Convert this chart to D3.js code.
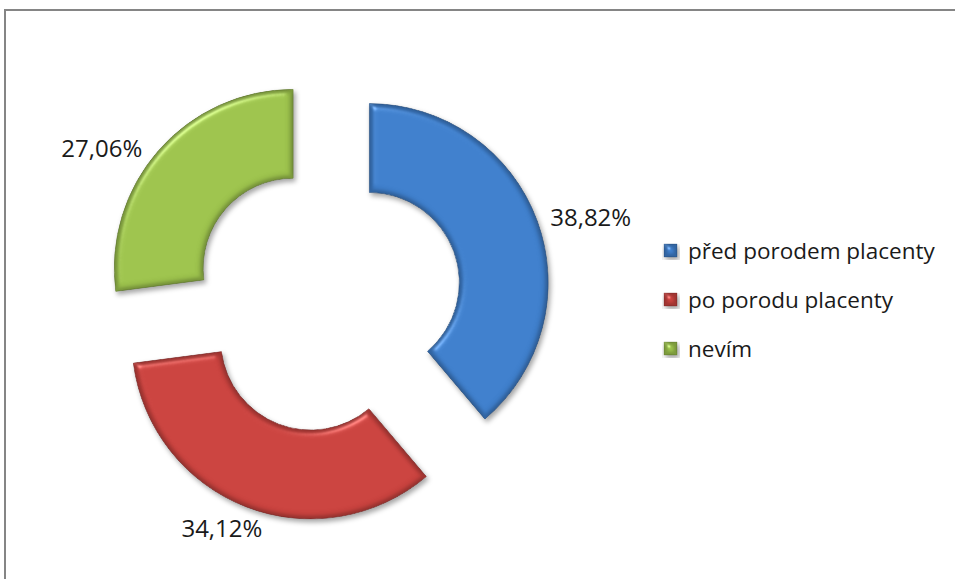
<!DOCTYPE html>
<html>
<head>
<meta charset="utf-8">
<script src="https://cdn.jsdelivr.net/npm/d3@7/dist/d3.min.js"></script>
<style>
  html, body { margin: 0; padding: 0; background: #fff; }
  svg { display: block; }
  text { font-family: "Open Sans", "Noto Sans", sans-serif; fill: #1a1a1a; }
</style>
</head>
<body>
<svg id="chart" width="955" height="579"></svg>
<script>
// Answers: when was the baby handed over (share of respondents, %)
const categories = ["před porodem placenty", "po porodu placenty", "nevím"];
const shares = [38.82, 34.12, 27.06];
const valueLabels = ["38,82%", "34,12%", "27,06%"];
const colors = ["#3e7ecb", "#c9423e", "#9cc24c"];

const W = 955, H = 579;
const cx = 327, cy = 298;
const outerR = 179, innerR = 90;
const explode = 45;

const svg = d3.select("#chart");
const defs = svg.append("defs");

// soft bevel + drop shadow for the ring segments
const f = defs.append("filter").attr("id", "bevel")
  .attr("color-interpolation-filters", "sRGB")
  .attr("x", "-20%").attr("y", "-20%").attr("width", "140%").attr("height", "140%");
f.append("feGaussianBlur").attr("in", "SourceAlpha").attr("stdDeviation", 3.5).attr("result", "blur");
const spec = f.append("feSpecularLighting").attr("in", "blur")
  .attr("surfaceScale", 4).attr("specularConstant", 0.8).attr("specularExponent", 40)
  .attr("lighting-color", "#ffffff").attr("result", "spec");
spec.append("feDistantLight").attr("azimuth", 235).attr("elevation", 45);
f.append("feComposite").attr("in", "spec").attr("in2", "SourceAlpha").attr("operator", "in").attr("result", "specIn");
const dif = f.append("feDiffuseLighting").attr("in", "blur")
  .attr("surfaceScale", 4).attr("diffuseConstant", 1.0)
  .attr("lighting-color", "#ffffff").attr("result", "dif");
dif.append("feDistantLight").attr("azimuth", 235).attr("elevation", 90);
f.append("feComposite").attr("in", "SourceGraphic").attr("in2", "dif")
  .attr("operator", "arithmetic").attr("k1", 1).attr("k2", 0).attr("k3", 0).attr("k4", 0).attr("result", "shaded");
f.append("feComposite").attr("in", "shaded").attr("in2", "specIn")
  .attr("operator", "arithmetic").attr("k1", 0).attr("k2", 1).attr("k3", 0.35).attr("k4", 0).attr("result", "lit");
f.append("feComposite").attr("in", "lit").attr("in2", "SourceAlpha").attr("operator", "in").attr("result", "litIn");
f.append("feGaussianBlur").attr("in", "SourceAlpha").attr("stdDeviation", 2.5).attr("result", "sh");
f.append("feOffset").attr("in", "sh").attr("dx", 1.5).attr("dy", 3).attr("result", "shOff");
f.append("feFlood").attr("flood-color", "#000").attr("flood-opacity", 0.35).attr("result", "shCol");
f.append("feComposite").attr("in", "shCol").attr("in2", "shOff").attr("operator", "in").attr("result", "shadow");
const m = f.append("feMerge");
m.append("feMergeNode").attr("in", "shadow");
m.append("feMergeNode").attr("in", "litIn");

// frame
svg.append("path")
  .attr("d", `M5,${H} L5,10 L${W},10`)
  .attr("fill", "none").attr("stroke", "#858585").attr("stroke-width", 2);

const pie = d3.pie().sort(null).value(d => d)(shares);
const arc = d3.arc().innerRadius(innerR).outerRadius(outerR);

const g = svg.append("g").attr("transform", `translate(${cx},${cy})`);

const dirOf = d => {
  const a = (d.startAngle + d.endAngle) / 2;
  return [Math.sin(a), -Math.cos(a)];
};

g.selectAll("path.seg").data(pie).join("path")
  .attr("class", "seg")
  .attr("transform", d => { const [ux, uy] = dirOf(d); return `translate(${ux * explode},${uy * explode})`; })
  .attr("d", arc)
  .attr("fill", (d, i) => colors[i])
  .attr("stroke", (d, i) => d3.color(colors[i]).darker(0.6))
  .attr("stroke-width", 0.8)
  .attr("filter", "url(#bevel)");

// value labels just outside each segment
const labelNudge = [[6, 3], [-6, 0], [-19, 12]];
const fs = 24;
g.selectAll("text.val").data(pie).join("text")
  .attr("class", "val")
  .attr("font-size", fs)
  .attr("dominant-baseline", "central")
  .attr("text-anchor", "middle")
  .each(function (d, i) {
    const [ux, uy] = dirOf(d);
    const rr = explode + outerR + 10;
    const t = d3.select(this).text(valueLabels[i]);
    const w = this.getComputedTextLength();
    const x = ux * rr + ux * w / 2 + labelNudge[i][0];
    const y = uy * rr + uy * fs * 0.5 + labelNudge[i][1];
    t.attr("x", x).attr("y", y);
  });

// legend
const leg = svg.append("g").attr("transform", "translate(664,250)");
const gap = 49;
const li = leg.selectAll("g").data(categories).join("g")
  .attr("transform", (d, i) => `translate(0,${i * gap})`);
li.append("rect")
  .attr("x", 0).attr("y", -6).attr("width", 13).attr("height", 13)
  .attr("fill", (d, i) => colors[i])
  .attr("stroke", (d, i) => d3.color(colors[i]).darker(0.6))
  .attr("stroke-width", 0.8)
  .attr("filter", "url(#bevel)");
li.append("text")
  .attr("x", 24).attr("y", 0)
  .attr("dominant-baseline", "central")
  .attr("font-size", 22.5)
  .text(d => d);
</script>
</body>
</html>
